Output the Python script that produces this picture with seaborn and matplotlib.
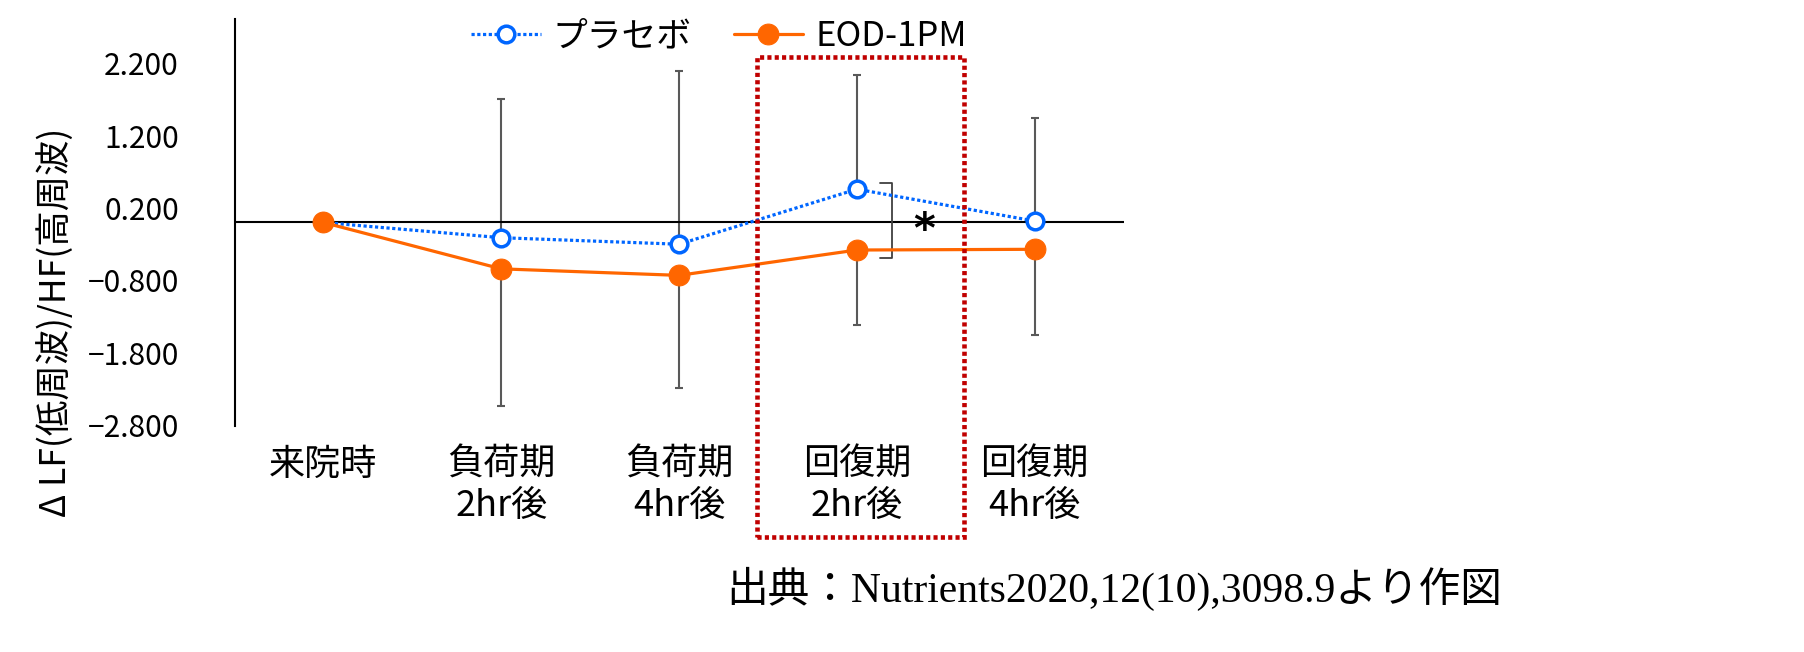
import numpy as np
import matplotlib
matplotlib.use('Agg')
import matplotlib.pyplot as plt
import matplotlib.transforms as mtransforms
from matplotlib.patches import Rectangle
import seaborn as sns

categories = ['来院時', '負荷期\n2hr後', '負荷期\n4hr後', '回復期\n2hr後', '回復期\n4hr後']
placebo = [0.0, -0.21, -0.30, 0.46, 0.02]
eod = [0.0, -0.64, -0.73, -0.38, -0.37]
placebo_sd_up = [0.0, 1.92, 2.39, 1.58, 1.42]
eod_sd_down = [0.0, 1.90, 1.55, 1.04, 1.19]
yticks = [-2.8, -1.8, -0.8, 0.2, 1.2, 2.2]

sns.set_theme(style='white')
plt.rcParams['font.family'] = ['Noto Sans CJK JP', 'DejaVu Sans']
plt.rcParams['text.color'] = 'black'
plt.rcParams['xtick.color'] = 'black'
plt.rcParams['ytick.color'] = 'black'
plt.rcParams['axes.labelcolor'] = 'black'

blue = '#0066FF'
orange = '#FF6600'
pos = np.arange(len(categories))

fig = plt.figure(figsize=(18.04, 6.52), dpi=100)
ax = fig.add_axes([0.130, 0.3466, 0.4928, 0.6243])

# error bars: placebo upward, EOD downward
ax.errorbar(pos[1:], placebo[1:], yerr=[np.zeros(4), placebo_sd_up[1:]], fmt='none',
            ecolor='#595959', elinewidth=1.5, capsize=3, capthick=1.5, zorder=1)
ax.errorbar(pos[1:], eod[1:], yerr=[eod_sd_down[1:], np.zeros(4)], fmt='none',
            ecolor='#595959', elinewidth=1.5, capsize=3, capthick=1.5, zorder=1)

ax.axhline(0, color='black', lw=1.5, zorder=2)

sns.lineplot(x=pos, y=placebo, ax=ax, color=blue, linestyle=(0, (1, 0.8)), lw=2.3,
             marker='o', markersize=12, markerfacecolor='white', markeredgecolor=blue,
             markeredgewidth=2.5, label='プラセボ', zorder=3)
sns.lineplot(x=pos, y=eod, ax=ax, color=orange, lw=2.3, marker='o', markersize=15,
             markerfacecolor=orange, markeredgecolor=orange, label='EOD-1PM', zorder=4)

# significance bracket
bx, btick = 3.2, 3.13
ytop, ybot = placebo[3] + 0.08, eod[3] - 0.11
ax.plot([btick, bx, bx, btick], [ytop, ytop, ybot, ybot], color='#404040', lw=1.3, zorder=2)
ax.text(3.38, -0.12, '*', fontsize=30, fontweight='bold', ha='center', va='center',
        family=['DejaVu Sans'], zorder=5)

ax.set_xlim(-0.5, 4.5)
ax.set_ylim(-2.81, 2.81)
ax.set_xticks(pos)
ax.set_xticklabels(categories, fontsize=26, linespacing=1.2)
ax.set_yticks(yticks)
ax.set_yticklabels([f'{v:.3f}'.replace('-', '\u2212') for v in yticks], fontsize=21.5)
ax.tick_params(axis='y', length=0, pad=40)
ax.tick_params(axis='x', length=0, pad=15)
for s in ['top', 'right', 'bottom']:
    ax.spines[s].set_visible(False)
ax.spines['left'].set_color('black')
ax.spines['left'].set_linewidth(1.5)
ax.set_xlabel('')
ax.set_ylabel('')

ax.legend(loc='center', bbox_to_anchor=(0.545, 0.956), ncol=2, frameon=False,
          fontsize=25, handlelength=2.0, columnspacing=1.2, handletextpad=0.35)

fig.text(0.031, 0.505, 'Δ LF(低周波)/HF(高周波)', rotation=90, ha='center', va='center',
         fontsize=25.5)

# red dotted highlight box
trans = mtransforms.blended_transform_factory(ax.transData, fig.transFigure)
box = Rectangle((2.44, 0.1764), 3.605 - 2.44, 0.9126 - 0.1764, transform=trans,
                fill=False, edgecolor='#C00000', lw=3.3, linestyle=(0, (0.9, 0.7)),
                clip_on=False, zorder=6)
fig.patches.append(box)

fig.text(0.4025, 0.0966, '出典：Nutrients2020,12(10),3098.9より作図', ha='left', va='center',
         fontsize=30, family=['Liberation Serif', 'Noto Sans CJK JP'])

fig.savefig('out.png', dpi=100)
